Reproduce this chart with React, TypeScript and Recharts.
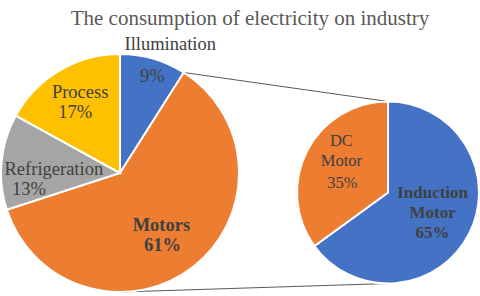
import { Cell, Customized, Pie, PieChart } from "recharts";

const mainCategories = ["Illumination", "Motors", "Refrigeration", "Process"];
const mainShares = [9, 61, 13, 17];
const motorCategories = ["Induction Motor", "DC Motor"];
const motorShares = [65, 35];

const mainColors = ["#4472c4", "#ed7d31", "#a5a5a5", "#ffc000"];
const motorColors = ["#4472c4", "#ed7d31"];

const W = 480;
const H = 296;
const MAIN = { cx: 120, cy: 173, r: 119 };
const SUB = { cx: 388, cy: 192.5, r: 91 };
const RAD = Math.PI / 180;
const FONT = "'Liberation Serif', 'Times New Roman', serif";

// label placement: radial fraction along the slice midline, then per-line offsets
type Layout = { f: number; size: number; bold?: boolean; lines: [string, number, number][] };
const labelLayout: Record<string, Layout> = {
  Illumination: { f: 0.85, size: 18.5, lines: [["Illumination", 22, -26], ["%", 4, 6]] },
  Motors: { f: 0.65, size: 18.5, bold: true, lines: [["Motors", -6, -3], ["%", -5, 17]] },
  Refrigeration: { f: 0.55, size: 18.5, lines: [["Refrigeration", -1, 8], ["%", -26, 28]] },
  Process: { f: 0.69, size: 18.5, lines: [["Process", 2, -4], ["%", -3, 16]] },
  "Induction Motor": { f: 0.55, size: 17, bold: true, lines: [["Induction", 0, -17], ["Motor", 0, 3], ["%", 0, 23]] },
  "DC Motor": { f: 0.6, size: 16.5, lines: [["DC", 2, -22], ["Motor", 2, -2], ["%", 3, 20]] },
};

const mainData = mainCategories.map((name, i) => ({ name, value: mainShares[i] }));
const motorData = motorCategories.map((name, i) => ({ name, value: motorShares[i] }));

function SliceLabel(props: any) {
  const { cx, cy, midAngle, outerRadius, name, value } = props;
  const layout = labelLayout[name];
  if (!layout) return null;
  const x = cx + layout.f * outerRadius * Math.cos(-midAngle * RAD);
  const y = cy + layout.f * outerRadius * Math.sin(-midAngle * RAD);
  return (
    <g>
      {layout.lines.map(([t, dx, dy], i) => (
        <text
          key={i}
          x={x + dx}
          y={y + dy}
          style={{ fontFamily: FONT, fontSize: layout.size, fontWeight: layout.bold ? 700 : 400 }}
          fill="#404040"
          textAnchor="middle"
        >
          {t === "%" ? `${value}%` : t}
        </text>
      ))}
    </g>
  );
}

function Overlay() {
  const total = mainShares.reduce((a, b) => a + b, 0);
  // edge between Illumination and Motors
  const edge = 90 - (mainShares[0] / total) * 360;
  const x1 = MAIN.cx + MAIN.r * Math.cos(edge * RAD);
  const y1 = MAIN.cy - MAIN.r * Math.sin(edge * RAD);
  return (
    <g>
      <text x={250} y={25} textAnchor="middle" style={{ fontFamily: FONT, fontSize: 21 }} fill="#595959">
        The consumption of electricity on industry
      </text>
      <line x1={x1} y1={y1} x2={SUB.cx} y2={SUB.cy - SUB.r} stroke="#595959" strokeWidth={1} />
      <line x1={MAIN.cx} y1={MAIN.cy + MAIN.r} x2={SUB.cx} y2={SUB.cy + SUB.r} stroke="#595959" strokeWidth={1} />
    </g>
  );
}

export default function App() {
  return (
    <div style={{ width: W, height: H, background: "#fff" }}>
      <style>{"body{margin:0}"}</style>
      <PieChart width={W} height={H} margin={{ top: 0, right: 0, bottom: 0, left: 0 }}>
        <Pie
          data={mainData}
          dataKey="value"
          nameKey="name"
          cx={MAIN.cx}
          cy={MAIN.cy}
          outerRadius={MAIN.r}
          startAngle={90}
          endAngle={-270}
          stroke="#fff"
          strokeWidth={2}
          label={SliceLabel}
          labelLine={false}
          isAnimationActive={false}
        >
          {mainData.map((d, i) => (
            <Cell key={d.name} fill={mainColors[i]} />
          ))}
        </Pie>
        <Pie
          data={motorData}
          dataKey="value"
          nameKey="name"
          cx={SUB.cx}
          cy={SUB.cy}
          outerRadius={SUB.r}
          startAngle={90}
          endAngle={-270}
          stroke="#fff"
          strokeWidth={2}
          label={SliceLabel}
          labelLine={false}
          isAnimationActive={false}
        >
          {motorData.map((d, i) => (
            <Cell key={d.name} fill={motorColors[i]} />
          ))}
        </Pie>
        <Customized component={Overlay} />
      </PieChart>
    </div>
  );
}
